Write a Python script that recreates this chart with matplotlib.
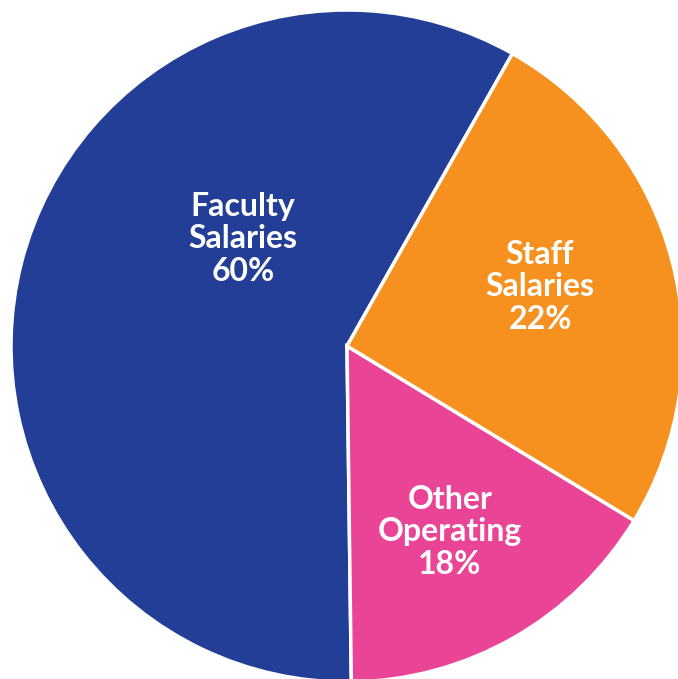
import matplotlib
matplotlib.use("Agg")
import matplotlib.pyplot as plt

# wedge sizes as drawn (the printed labels round differently)
categories = ["Faculty\nSalaries", "Other\nOperating", "Staff\nSalaries"]
shares = [58.4, 16.1, 25.5]
pct_labels = ["60%", "18%", "22%"]
colors = ["#233E96", "#E94496", "#F6911F"]

# label anchor points (pixels, y measured from top)
label_x = [243, 450, 540]
label_y = [239, 532, 287]

W, H = 678, 679
fig = plt.figure(figsize=(W / 100, H / 100), dpi=100)
ax = fig.add_axes([0, 0, 1, 1])

ax.pie(
    shares,
    colors=colors,
    startangle=60.5,
    counterclock=True,
    center=(347, H - 346),
    radius=336,
    wedgeprops=dict(edgecolor="white", linewidth=2.5),
    frame=True,
)

for cat, pct, x, y in zip(categories, pct_labels, label_x, label_y):
    ax.text(
        x, H - y, cat + "\n" + pct,
        ha="center", va="center",
        color="white", fontsize=23, fontweight="bold",
        family=["Lato", "DejaVu Sans"],
        linespacing=1.13,
    )

ax.set_xlim(0, W)
ax.set_ylim(0, H)
ax.set_aspect("equal")
ax.axis("off")

fig.savefig("out.png", dpi=100, facecolor="white")
